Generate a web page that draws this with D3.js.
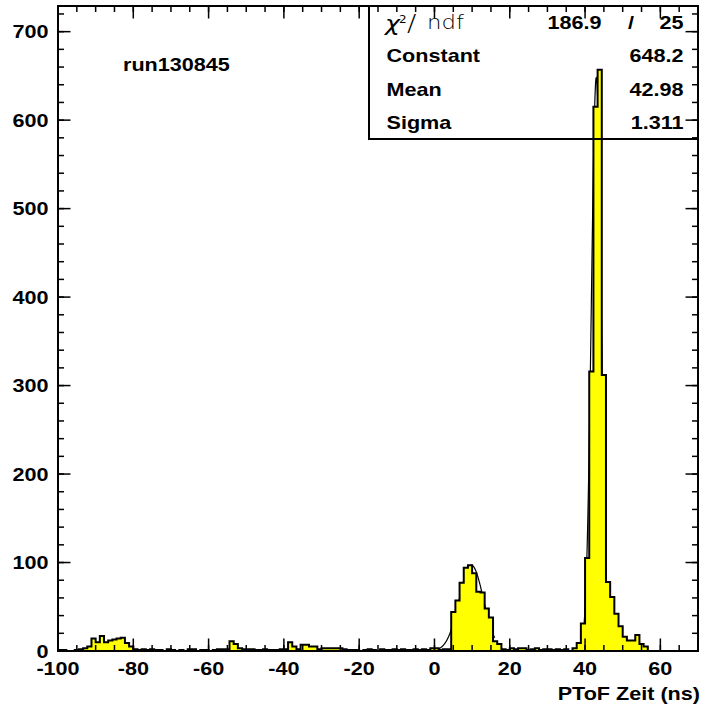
<!DOCTYPE html>
<html>
<head>
<meta charset="utf-8">
<script src="https://cdnjs.cloudflare.com/ajax/libs/d3/7.8.5/d3.min.js"></script>
<style>
  body { margin: 0; background: #fff; }
  svg { display: block; }
  text { font-family: "Liberation Sans", Arial, sans-serif; font-weight: bold; fill: #000; }
  text.thin { font-family: "DejaVu Sans", sans-serif; }
</style>
</head>
<body>
<svg id="chart" width="703" height="707"></svg>
<script>
// histogram: 153 bins of 10/9 ns between -100 and 70 ns
var xRange = [-100, 70];
var counts = [
  1, 1, 0, 0, 1, 2, 3, 5, 14, 10,
  17, 10, 12, 13, 14, 15, 9, 5, 2, 1,
  2, 1, 2, 1, 1, 0, 2, 1, 0, 1,
  0, 2, 2, 0, 1, 1, 0, 1, 2, 2,
  2, 11, 8, 3, 2, 2, 2, 1, 1, 2,
  1, 1, 1, 2, 2, 10, 5, 2, 7, 7,
  5, 5, 2, 3, 3, 3, 3, 3, 2, 1,
  1, 1, 0, 1, 2, 1, 0, 2, 1, 1,
  2, 1, 2, 1, 1, 2, 1, 2, 1, 3,
  3, 1, 2, 2, 44, 57, 77, 94, 97, 88,
  67, 66, 48, 38, 11, 8, 2, 1, 3, 2,
  3, 3, 1, 2, 3, 1, 2, 2, 1, 2,
  1, 2, 0, 3, 9, 31, 105, 316, 615, 657,
  312, 78, 61, 42, 28, 16, 12, 12, 18, 8,
  5, 0, 0, 0, 0, 0, 0, 0, 0, 0,
  0, 0, 0
];

// gaussian fits: [constant, mean, sigma, from, to]
var fitMain = [648.2, 42.98, 1.311, 38, 48];
var fitLow = [97, 9.8, 3.2, 0, 16];

var statNames = ["Constant", "Mean", "Sigma"];
var statValues = ["648.2", "42.98", "1.311"];
var chi2 = "186.9";
var ndf = "25";
var runLabel = "run130845";
var xTitle = "PToF Zeit (ns)";

var yMax = 729;
var xMajor = d3.range(-100, 61, 20);
var xMinor = d3.range(-100, 71, 5);
var yMajor = d3.range(0, 701, 100);
var yMinor = d3.range(0, 721, 20);

(function () {
    var fL = 58, fR = 698, fT = 6, fB = 651;
    var sx = 1.2; // glyphs in the reference are stretched horizontally

    var svg = d3.select("#chart");
    var x = d3.scaleLinear().domain(xRange).range([fL, fR]);
    var y = d3.scaleLinear().domain([0, yMax]).range([fB, fT]);

    function label(g, px, py, s, anchor, size, weight) {
        return g.append("text")
            .attr("transform", "translate(" + px + "," + py + ") scale(" + sx + ",1)")
            .attr("text-anchor", anchor)
            .style("font-size", size + "px")
            .style("font-weight", weight || "bold")
            .text(s);
    }

    // fit curves first, so the filled histogram hides them inside
    function gaus(p) {
        var pts = d3.range(p[3], p[4] + 0.001, 0.05).map(function (t) {
            return [t, p[0] * Math.exp(-Math.pow(t - p[1], 2) / (2 * p[2] * p[2]))];
        });
        svg.append("path")
            .attr("d", d3.line().x(function (d) { return x(d[0]); }).y(function (d) { return y(d[1]); })(pts))
            .attr("fill", "none")
            .attr("stroke", "#000")
            .attr("stroke-width", 1.2);
    }
    gaus(fitMain);
    gaus(fitLow);

    // histogram
    var bw = (xRange[1] - xRange[0]) / counts.length;
    var d = "M" + x(xRange[0]) + "," + y(0);
    counts.forEach(function (c, i) {
        var lo = xRange[0] + i * bw, hi = lo + bw;
        d += "L" + x(lo) + "," + y(c) + "L" + x(hi) + "," + y(c);
    });
    d += "L" + x(xRange[1]) + "," + y(0) + "Z";
    svg.append("path")
        .attr("d", d)
        .attr("fill", "#ffff00")
        .attr("stroke", "#000")
        .attr("stroke-width", 2)
        .attr("stroke-linejoin", "miter");

    // ticks on all four sides, pointing inwards
    var tk = svg.append("g").attr("stroke", "#000").attr("stroke-width", 1.5);
    function xticks(vals, len) {
        vals.forEach(function (v) {
            tk.append("line").attr("x1", x(v)).attr("x2", x(v)).attr("y1", fB).attr("y2", fB - len);
            tk.append("line").attr("x1", x(v)).attr("x2", x(v)).attr("y1", fT).attr("y2", fT + len);
        });
    }
    function yticks(vals, len) {
        vals.forEach(function (v) {
            tk.append("line").attr("y1", y(v)).attr("y2", y(v)).attr("x1", fL).attr("x2", fL + len);
            tk.append("line").attr("y1", y(v)).attr("y2", y(v)).attr("x1", fR).attr("x2", fR - len);
        });
    }
    xticks(xMinor, 6);
    xticks(xMajor, 12.5);
    yticks(yMinor, 6);
    yticks(yMajor, 12.5);

    // frame
    svg.append("rect")
        .attr("x", fL).attr("y", fT)
        .attr("width", fR - fL).attr("height", fB - fT)
        .attr("fill", "none").attr("stroke", "#000").attr("stroke-width", 2);

    // tick labels and titles
    var lab = svg.append("g");
    xMajor.forEach(function (v) { label(lab, x(v), 675, v, "middle", 18); });
    yMajor.forEach(function (v) { label(lab, 48.5, y(v) + 6.5, v, "end", 18); });
    label(lab, 700, 700, xTitle, "end", 18);
    label(lab, 123, 71, runLabel, "start", 18);

    // stats box (no fill, the peak shows through)
    var bx0 = 369, by1 = 139;
    svg.append("rect")
        .attr("x", bx0).attr("y", fT)
        .attr("width", fR - bx0).attr("height", by1 - fT)
        .attr("fill", "none").attr("stroke", "#000").attr("stroke-width", 2);
    var rowH = (by1 - fT) / 4;
    var st = svg.append("g");
    var b0 = fT + rowH / 2 + 6.5;
    label(st, 385, b0 + 2, "\u03c7", "start", 21, "normal").attr("class", "thin").style("font-style", "italic");
    label(st, 399, b0 - 6, "2", "start", 10, "normal").attr("class", "thin");
    label(st, 407, b0 + 2, "/", "start", 23, "200").attr("class", "thin");
    label(st, 427, b0, "ndf", "start", 19, "200").attr("class", "thin");
    label(st, 601.5, b0, chi2, "end", 18);
    label(st, 631, b0, "/", "middle", 18);
    label(st, 683.5, b0, ndf, "end", 18);
    statNames.forEach(function (n, i) {
        var by = fT + rowH * (i + 1.5) + 6.5;
        label(st, 386.5, by, n, "start", 18);
        label(st, 683.5, by, statValues[i], "end", 18);
    });
})();
</script>
</body>
</html>
